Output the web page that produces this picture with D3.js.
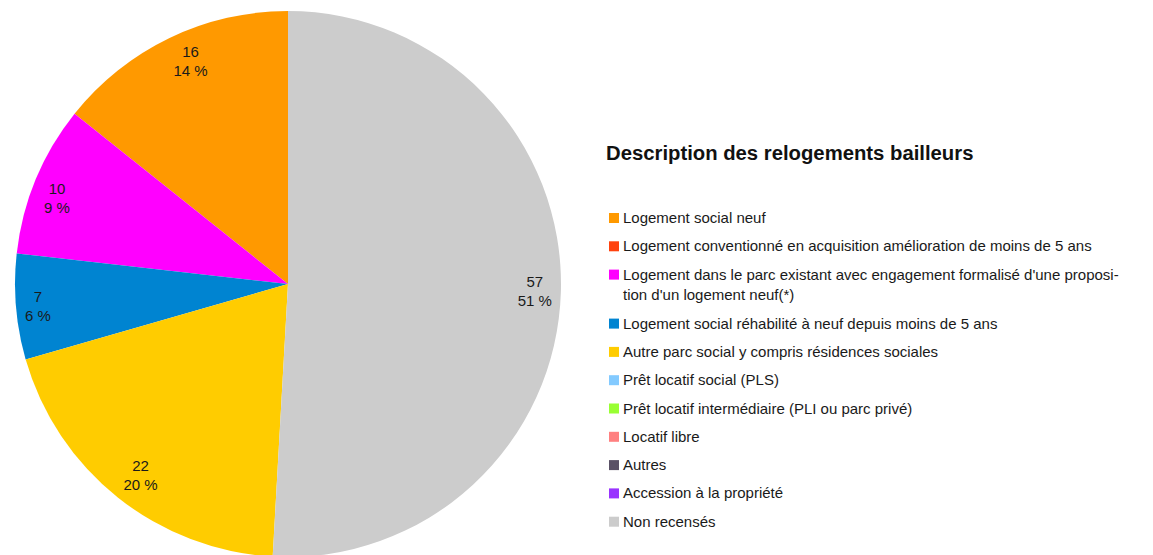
<!DOCTYPE html>
<html>
<head>
<meta charset="utf-8">
<script src="https://cdn.jsdelivr.net/npm/d3@7"></script>
<style>
  html, body { margin: 0; padding: 0; background: #fff; }
  svg { display: block; font-family: "Liberation Sans", Arial, sans-serif; }
</style>
</head>
<body>
<svg id="chart" width="1153" height="555"></svg>
<script>
// Categories (legend order) with their counts and colours
const categories = [
  ["Logement social neuf"],
  ["Logement conventionné en acquisition amélioration de moins de 5 ans"],
  ["Logement dans le parc existant avec engagement formalisé d'une proposi-", "tion d'un logement neuf(*)"],
  ["Logement social réhabilité à neuf depuis moins de 5 ans"],
  ["Autre parc social y compris résidences sociales"],
  ["Prêt locatif social (PLS)"],
  ["Prêt locatif intermédiaire (PLI ou parc privé)"],
  ["Locatif libre"],
  ["Autres"],
  ["Accession à la propriété"],
  ["Non recensés"]
];
const values = [16, 0, 10, 7, 22, 0, 0, 0, 0, 0, 57];
const colors = ["#ff9900", "#ff420e", "#ff00ff", "#0084d1", "#ffcc00", "#83caff",
                "#99ff33", "#ff8080", "#5a5166", "#9933ff", "#cccccc"];
const title = "Description des relogements bailleurs";

const svg = d3.select("#chart");
const cx = 288, cy = 284, radius = 273;

const total = d3.sum(values);
const data = values.map((v, i) => ({ value: v, color: colors[i], i }));

// Slices run counter-clockwise from twelve o'clock
const pie = d3.pie().sort(null).value(d => d.value)
  .startAngle(0).endAngle(-2 * Math.PI);
const arcs = pie(data);
const arc = d3.arc().innerRadius(0).outerRadius(radius);

const g = svg.append("g").attr("transform", `translate(${cx},${cy})`);

g.selectAll("path.slice")
  .data(arcs.filter(d => d.data.value > 0))
  .join("path")
  .attr("class", "slice")
  .attr("d", arc)
  .attr("fill", d => d.data.color);

// Value and percentage labels: anchored on a circle near the rim, then
// pulled inwards by half the label box along the dominant axes.
const anchorR = 264;
const fs = 15, cap = 10.8, lineGap = 19;
const blockH = cap + lineGap;
const labels = g.selectAll("text.lbl")
  .data(arcs.filter(d => d.data.value > 0))
  .join("text")
  .attr("class", "lbl")
  .attr("text-anchor", "middle")
  .attr("font-size", fs)
  .attr("fill", "#1a1a1a");
labels.append("tspan").attr("x", 0).attr("y", -blockH / 2 + cap).text(d => d.data.value);
labels.append("tspan").attr("x", 0).attr("y", -blockH / 2 + cap + lineGap)
  .text(d => Math.round(d.data.value / total * 100) + " %");
labels.attr("transform", function (d) {
  const a = (d.startAngle + d.endAngle) / 2;
  const ux = Math.sin(a), uy = -Math.cos(a);
  let w = 0;
  d3.select(this).selectAll("tspan").each(function () {
    w = Math.max(w, this.getComputedTextLength());
  });
  const sx = Math.abs(ux) >= 0.38 ? Math.sign(ux) : 0;
  const sy = Math.abs(uy) >= 0.38 ? Math.sign(uy) : 0;
  const x = anchorR * ux - sx * w / 2;
  const y = anchorR * uy - sy * blockH / 2;
  return `translate(${x},${y})`;
});

// Legend
const lx = 606, ly = 153;
svg.append("text")
  .attr("x", lx).attr("y", ly + 7)
  .attr("font-size", 20.3).attr("font-weight", "bold").attr("fill", "#111")
  .text(title);

const rowY = d3.scaleLinear().domain([0, 1]).range([218, 246.3]);
let extra = 0;
categories.forEach((lines, i) => {
  const y = rowY(i) + extra;
  svg.append("rect")
    .attr("x", 609).attr("y", y - 5).attr("width", 10).attr("height", 10)
    .attr("fill", colors[i]);
  const t = svg.append("text")
    .attr("font-size", 15).attr("fill", "#1a1a1a");
  lines.forEach((ln, k) => {
    t.append("tspan").attr("x", 623).attr("y", y + 5 + k * 20).text(ln);
  });
  extra += (lines.length - 1) * 20.7;
});
</script>
</body>
</html>
